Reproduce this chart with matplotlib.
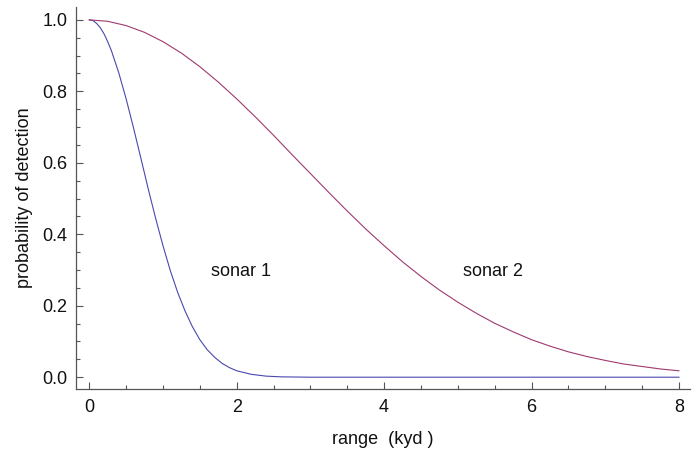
import matplotlib
matplotlib.use("Agg")
import matplotlib.pyplot as plt
from matplotlib.ticker import MultipleLocator

# ---- data ----
sonar1_x = [0.0, 0.05, 0.1, 0.15, 0.2, 0.25, 0.3, 0.4, 0.5, 0.6, 0.7, 0.8, 0.9, 1.0, 1.1, 1.2, 1.3,
            1.4, 1.5, 1.6, 1.7, 1.8, 1.9, 2.0, 2.2, 2.4, 2.6, 3.0, 4.0, 5.0, 6.0, 7.0, 8.0]
sonar1_y = [1.000, 0.998, 0.990, 0.978, 0.961, 0.939, 0.914, 0.852, 0.779, 0.698, 0.613, 0.527,
            0.445, 0.368, 0.298, 0.237, 0.185, 0.141, 0.105, 0.077, 0.056, 0.039, 0.027, 0.018,
            0.008, 0.003, 0.001, 0.000, 0.000, 0.000, 0.000, 0.000, 0.000]

sonar2_x = [0.0, 0.25, 0.5, 0.75, 1.0, 1.25, 1.5, 1.75, 2.0, 2.25, 2.5, 2.75, 3.0, 3.25,
            3.5, 3.75, 4.0, 4.25, 4.5, 4.75, 5.0, 5.25, 5.5, 5.75, 6.0, 6.25, 6.5, 6.75,
            7.0, 7.25, 7.5, 7.75, 8.0]
sonar2_y = [1.000, 0.996, 0.984, 0.965, 0.939, 0.907, 0.869, 0.826, 0.779, 0.729, 0.677,
            0.623, 0.570, 0.517, 0.465, 0.415, 0.368, 0.323, 0.282, 0.244, 0.210, 0.179,
            0.151, 0.127, 0.105, 0.087, 0.071, 0.058, 0.047, 0.037, 0.030, 0.023, 0.018]

labels = ["sonar 1", "sonar 2"]
label_pos_x = [2.06, 5.48]
label_pos_y = [0.297, 0.297]

x_ticks = [0, 2, 4, 6, 8]
y_ticks = [0.0, 0.2, 0.4, 0.6, 0.8, 1.0]
x_label = "range  (kyd )"
y_label = "probability of detection"

plt.rcParams['font.family'] = ['Liberation Sans', 'DejaVu Sans']

fig = plt.figure(figsize=(6.92, 4.54), dpi=100)
ax = fig.add_axes([76 / 692, 1 - 389 / 454, (690 - 76) / 692, (389 - 7) / 454])

ax.plot(sonar1_x, sonar1_y, color="#4a48ad", lw=0.8)
ax.plot(sonar2_x, sonar2_y, color="#9e3a6e", lw=0.8)

for t, tx, ty in zip(labels, label_pos_x, label_pos_y):
    ax.text(tx, ty, t, ha="center", va="center", fontsize=13, color="#111111")

ax.set_xlim(-0.18, 8.15)
ax.set_ylim(-0.033, 1.036)

ax.set_xticks(x_ticks)
ax.set_xticklabels([str(v) for v in x_ticks])
ax.set_yticks(y_ticks)
ax.set_yticklabels([f"{v:.1f}" for v in y_ticks])
ax.xaxis.set_minor_locator(MultipleLocator(0.5))
ax.yaxis.set_minor_locator(MultipleLocator(0.05))

ax.tick_params(which="both", direction="in", color="#555555", width=0.8,
               labelsize=13, labelcolor="#111111")
ax.tick_params(which="major", length=5)
ax.tick_params(which="minor", length=3)
ax.tick_params(axis="x", pad=7)
ax.tick_params(axis="y", pad=6)

for s in ["top", "right"]:
    ax.spines[s].set_visible(False)
for s in ["left", "bottom"]:
    ax.spines[s].set_color("#555555")
    ax.spines[s].set_linewidth(0.9)

ax.set_xlabel(x_label, fontsize=13, color="#111111", labelpad=11)
ax.set_ylabel(y_label, fontsize=13, color="#111111", labelpad=7)

fig.savefig("out.png", dpi=100)
